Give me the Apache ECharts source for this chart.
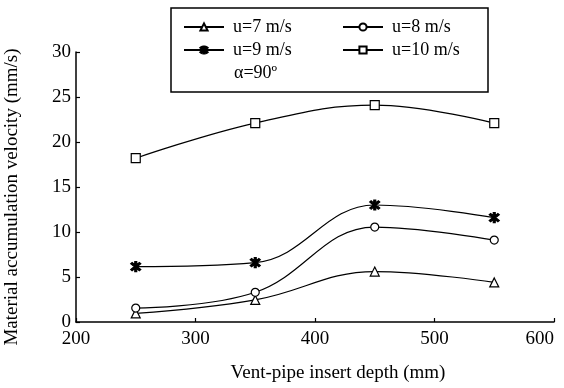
<!DOCTYPE html>
<html>
<head>
<meta charset="utf-8">
<script src="https://cdn.jsdelivr.net/npm/echarts@6/dist/echarts.min.js"></script>
<style>
  html, body { margin: 0; padding: 0; background: #fff; }
  #chart { width: 564px; height: 388px; }
</style>
</head>
<body>
<div id="chart"></div>
<script>
const depths = [250, 350, 450, 550];
const u7 = [0.95, 2.45, 5.6, 4.4];
const u8 = [1.55, 3.3, 10.55, 9.1];
const u9 = [6.15, 6.6, 13.0, 11.6];
const u10 = [18.2, 22.1, 24.1, 22.1];
const xTicks = [200, 300, 400, 500, 600];
const yTicks = [0, 5, 10, 15, 20, 25, 30];

const FONT = "Liberation Serif";
const starPath = "path://M-0.8,-5 L0.8,-5 L0.8,5 L-0.8,5 Z " +
  "M-4.11,-2.97 L-2.97,-4.11 L4.11,2.97 L2.97,4.11 Z " +
  "M-2.97,4.11 L-4.11,2.97 L2.97,-4.11 L4.11,-2.97 Z";

const pairs = (ys) => depths.map((d, i) => [d, ys[i]]);

function lineSeries(name, ys, symbol, size, fill) {
  return {
    name: name,
    type: "line",
    data: pairs(ys),
    smooth: 0.4,
    symbol: symbol,
    symbolSize: size,
    showAllSymbol: true,
    lineStyle: { color: "#000", width: 1.2 },
    itemStyle: { color: fill, borderColor: "#000", borderWidth: 1.2 },
    z: 3
  };
}

const legendText = { fontFamily: FONT, fontSize: 18, color: "#000", padding: [0, 0, 0, 4] };

const chart = echarts.init(document.getElementById("chart"));
chart.setOption({
  animation: false,
  backgroundColor: "#fff",
  textStyle: { fontFamily: FONT },
  grid: { left: 76, right: 10, top: 52, bottom: 66, containLabel: false, outerBoundsMode: "none" },
  xAxis: {
    type: "value",
    min: xTicks[0],
    max: xTicks[xTicks.length - 1],
    interval: 100,
    name: "Vent-pipe insert depth (mm)",
    nameLocation: "middle",
    nameGap: 42,
    nameTextStyle: { fontFamily: FONT, fontSize: 19, color: "#000", padding: [0, 0, 0, 46] },
    axisLine: { lineStyle: { color: "#000", width: 1.5 } },
    axisTick: { inside: true, length: 4, lineStyle: { color: "#000", width: 1.2 } },
    axisLabel: { fontFamily: FONT, fontSize: 19, color: "#000", margin: 8, alignMaxLabel: "right" },
    splitLine: { show: false }
  },
  yAxis: {
    type: "value",
    min: yTicks[0],
    max: yTicks[yTicks.length - 1],
    interval: 5,
    name: "Material accumulation velocity (mm/s)",
    nameLocation: "middle",
    nameGap: 54,
    nameTextStyle: { fontFamily: FONT, fontSize: 19, color: "#000", padding: [0, 20, 0, 0] },
    axisLine: { show: true, lineStyle: { color: "#000", width: 1.5 } },
    axisTick: { show: true, inside: true, length: 4, lineStyle: { color: "#000", width: 1.2 } },
    axisLabel: { fontFamily: FONT, fontSize: 19, color: "#000", margin: 5 },
    splitLine: { show: false }
  },
  legend: [
    {
      data: ["u=7 m/s", "u=9 m/s"],
      orient: "vertical",
      left: 183,
      top: 18,
      padding: 0,
      itemWidth: 40,
      itemHeight: 9,
      itemGap: 5,
      textStyle: legendText
    },
    {
      data: ["u=8 m/s", "u=10 m/s"],
      orient: "vertical",
      left: 342,
      top: 18,
      padding: 0,
      itemWidth: 40,
      itemHeight: 9,
      itemGap: 5,
      textStyle: legendText
    }
  ],
  graphic: [
    {
      type: "rect",
      shape: { x: 171, y: 8, width: 317, height: 84 },
      style: { fill: "none", stroke: "#000", lineWidth: 1.5 },
      z: 10
    },
    {
      type: "text",
      x: 234,
      y: 73,
      style: { text: "α=90º", fontFamily: FONT, fontSize: 18, fill: "#000", verticalAlign: "middle" },
      z: 10
    }
  ],
  series: [
    lineSeries("u=7 m/s", u7, "triangle", 9, "#fff"),
    lineSeries("u=8 m/s", u8, "circle", 8, "#fff"),
    lineSeries("u=9 m/s", u9, starPath, 10, "#000"),
    lineSeries("u=10 m/s", u10, "rect", 9, "#fff")
  ]
});
</script>
</body>
</html>
